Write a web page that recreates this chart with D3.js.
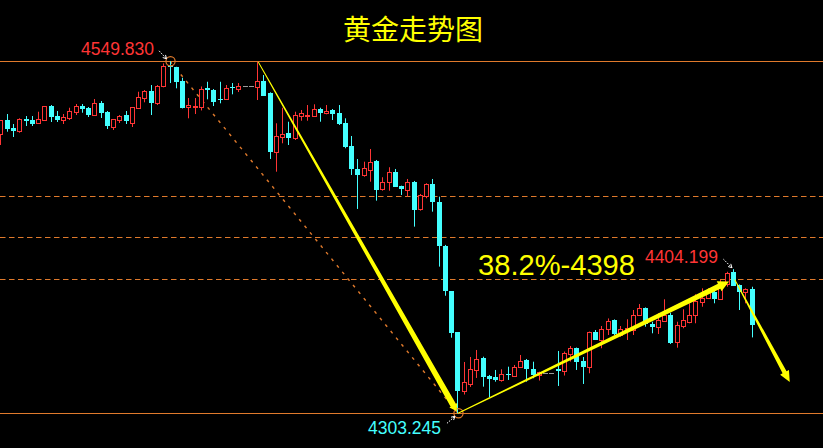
<!DOCTYPE html>
<html><head><meta charset="utf-8">
<script src="https://cdn.jsdelivr.net/npm/d3@7/dist/d3.min.js"></script>
<style>html,body{margin:0;padding:0;background:#000;overflow:hidden}</style>
</head><body>
<svg id="c" width="823" height="448"></svg>
<script>
// ---- data (XAUUSD candles) ----
const bars = d3.range(121);
const opens = [4498.9,4508.7,4503.1,4501.0,4509.4,4508.7,4506.6,4508.7,4518.5,4511.5,4508.9,4510.3,4514.3,4518.5,4516.9,4512.0,4520.6,4514.3,4503.8,4508.7,4512.2,4506.6,4517.3,4524.3,4529.0,4520.8,4532.7,4546.5,4545.8,4536.0,4517.6,4518.2,4517.8,4531.3,4529.7,4523.6,4523.2,4531.5,4530.4,4532.3,4532.3,4532.0,4536.0,4527.4,4486.5,4497.0,4499.8,4495.9,4511.7,4511.7,4511.7,4516.4,4513.8,4515.7,4513.8,4506.8,4490.5,4474.4,4470.2,4473.7,4480.2,4460.4,4465.1,4472.1,4462.7,4459.7,4465.1,4446.4,4455.7,4463.9,4451.5,4420.5,4388.9,4360.0,4319.1,4323.8,4333.6,4341.8,4329.4,4328.7,4326.6,4331.1,4329.6,4335.9,4340.6,4334.3,4330.1,4331.5,4331.5,4334.1,4333.1,4345.1,4348.8,4339.9,4335.9,4360.0,4354.9,4362.1,4368.6,4358.1,4362.1,4361.6,4372.1,4376.8,4365.8,4363.9,4367.9,4372.1,4353.0,4364.6,4367.4,4372.1,4381.4,4384.2,4388.0,4383.3,4393.6,4402.0,4393.1,4388.0,4390.3];
const highs = [4508.7,4512.9,4505.9,4509.9,4511.5,4511.5,4514.5,4518.5,4519.2,4515.0,4512.9,4517.3,4519.9,4519.9,4517.8,4523.4,4522.0,4515.0,4509.4,4512.2,4515.0,4517.8,4528.5,4529.7,4533.2,4533.2,4548.4,4549.83,4546.0,4538.3,4524.1,4524.1,4532.2,4535.5,4530.4,4535.5,4533.2,4534.6,4534.6,4532.3,4532.3,4549.3,4540.2,4528.1,4506.4,4517.3,4507.5,4514.5,4515.7,4519.2,4519.7,4517.3,4519.2,4516.4,4519.2,4509.9,4497.5,4481.4,4479.5,4488.4,4480.7,4468.6,4475.6,4474.4,4462.7,4467.4,4466.0,4456.9,4464.4,4467.4,4455.0,4421.2,4388.9,4360.0,4339.2,4342.7,4347.6,4342.9,4330.1,4333.6,4334.1,4335.9,4337.1,4344.1,4341.3,4339.4,4332.4,4331.5,4331.5,4346.9,4346.5,4350.4,4349.3,4342.7,4360.5,4361.6,4364.4,4369.7,4369.0,4364.4,4369.1,4375.6,4379.8,4377.4,4367.4,4373.3,4383.1,4373.7,4367.4,4376.1,4380.3,4386.6,4390.8,4390.8,4389.6,4396.6,4402.4,4404.199,4393.5,4390.8,4391.9];
const lows = [4491.2,4500.5,4496.8,4499.8,4504.5,4504.5,4506.6,4508.7,4507.3,4507.3,4505.9,4508.7,4512.2,4513.8,4510.8,4512.0,4510.1,4502.4,4501.7,4506.6,4505.9,4503.8,4517.3,4521.1,4512.2,4519.2,4531.6,4534.6,4530.9,4516.8,4509.9,4512.9,4515.4,4523.2,4518.5,4520.4,4522.7,4526.7,4528.3,4532.3,4532.3,4522.7,4525.7,4481.4,4472.5,4492.4,4491.2,4494.7,4508.2,4508.2,4511.7,4507.5,4512.7,4508.7,4505.2,4488.9,4470.2,4446.4,4469.0,4465.5,4452.2,4459.2,4459.2,4462.0,4456.2,4455.0,4434.0,4445.2,4453.9,4444.5,4406.0,4385.6,4356.2,4303.245,4316.4,4321.7,4328.0,4321.9,4314.5,4325.4,4325.4,4326.6,4329.6,4335.9,4325.4,4327.8,4326.2,4331.5,4331.5,4322.4,4329.7,4339.5,4333.6,4323.8,4331.3,4354.6,4348.8,4358.1,4358.1,4356.9,4354.6,4358.1,4371.4,4363.9,4359.3,4358.8,4367.4,4351.8,4349.2,4362.8,4366.3,4366.3,4377.9,4384.2,4380.3,4382.6,4391.9,4392.6,4375.6,4380.3,4356.4];
const closes = [4508.7,4502.4,4501.0,4509.2,4507.8,4505.9,4509.2,4518.5,4511.0,4508.7,4510.8,4515.0,4518.5,4516.4,4512.2,4520.6,4513.8,4504.5,4509.4,4511.5,4508.0,4517.8,4524.6,4529.0,4520.8,4532.5,4546.5,4545.5,4535.5,4517.3,4519.2,4518.7,4530.2,4529.4,4521.3,4523.1,4531.1,4531.1,4532.5,4532.3,4532.3,4536.0,4525.7,4486.5,4497.5,4498.9,4495.9,4512.2,4513.4,4512.4,4516.4,4513.8,4515.2,4512.9,4505.7,4490.0,4474.4,4470.2,4474.9,4479.1,4459.7,4465.1,4472.1,4462.0,4460.6,4465.1,4445.7,4456.2,4463.9,4451.3,4420.7,4389.1,4359.7,4319.1,4325.2,4334.3,4341.1,4328.5,4327.5,4326.6,4330.6,4330.1,4335.9,4339.9,4334.3,4330.1,4332.2,4331.5,4331.5,4333.2,4345.5,4348.8,4339.4,4335.9,4360.0,4354.6,4362.1,4367.6,4358.5,4362.1,4362.8,4372.1,4376.8,4365.8,4363.9,4368.6,4372.1,4352.3,4365.1,4368.6,4372.1,4381.9,4384.2,4388.0,4383.3,4393.1,4401.3,4392.6,4388.0,4390.3,4365.1];

const swingHigh = 4549.830, swingLow = 4303.245, recentHigh = 4404.199;
const fibRatios = [0, 0.382, 0.5, 0.618, 1];
const titleText = "黄金走势图";
const fibLabel = "38.2%-4398";
// arrows: [bar index, price] start -> end
const arrowPaths = [
  [[41.1, 4549.3], [72.8, 4304.6]],
  [[73.0, 4303.3], [116.3, 4395.6]],
  [[117.2, 4397.0], [126.0, 4325.2]]
];
const trendLine = [[27, swingHigh], [73, swingLow]];

// ---- scales ----
const W = 823, H = 448;
const x = d3.scaleBand().domain(bars).range([-2.13, 755.33]).paddingInner(0.2).paddingOuter(0.1);
const y = d3.scaleLinear().domain([swingLow, swingHigh]).range([413.3, 61.3]);
const xc = i => x(i) + x.bandwidth() / 2;
const xi = v => { const s = x.step(); return x(0) + x.bandwidth()/2 + v * s; };

const svg = d3.select("#c");
svg.append("rect").attr("width", W).attr("height", H).attr("fill", "#000");

const ORANGE = "#e07a2c", RED = "#ff3535", CYAN = "#44ffff", YEL = "#ffff00";

// fib lines
fibRatios.forEach(r => {
  const p = swingLow + r * (swingHigh - swingLow);
  const yy = Math.round(y(p)) + 0.5;
  svg.append("line").attr("x1", 0).attr("x2", W).attr("y1", yy).attr("y2", yy)
    .attr("stroke", ORANGE).attr("stroke-width", 1)
    .attr("stroke-dasharray", (r === 0 || r === 1) ? null : "5.5,3.5");
});

// dotted trend line
svg.append("line")
  .attr("x1", xc(trendLine[0][0])).attr("y1", y(trendLine[0][1]))
  .attr("x2", xc(trendLine[1][0])).attr("y2", y(trendLine[1][1]))
  .attr("stroke", ORANGE).attr("stroke-width", 1.4).attr("stroke-dasharray", "3,5.5");

// candles
const g = svg.append("g");
bars.forEach(i => {
  const o = opens[i], h = highs[i], l = lows[i], c = closes[i];
  const left = Math.round(xc(i) - 2.5);
  const cx = left + 2.5;
  if (h === l) {
    g.append("line").attr("x1", left).attr("x2", left + 5)
      .attr("y1", Math.round(y(c)) + 0.5).attr("y2", Math.round(y(c)) + 0.5)
      .attr("stroke", "#9a9a9a").attr("stroke-width", 1);
    return;
  }
  const up = c > o;
  const col = up ? RED : CYAN;
  g.append("line").attr("x1", cx).attr("x2", cx).attr("y1", y(h)).attr("y2", y(l))
    .attr("stroke", col).attr("stroke-width", 1);
  const top = Math.min(y(o), y(c)), bot = Math.max(y(o), y(c));
  if (up) {
    const t = Math.round(top) + 0.5, b = Math.max(Math.round(bot) + 0.5, t + 1);
    g.append("rect").attr("x", left + 0.5).attr("y", t).attr("width", 4).attr("height", b - t)
      .attr("fill", "#000").attr("stroke", col).attr("stroke-width", 1);
  } else {
    const t = Math.round(top), b = Math.max(Math.round(bot), t + 1);
    g.append("rect").attr("x", left).attr("y", t).attr("width", 5).attr("height", b - t)
      .attr("fill", col);
  }
});

// circles at swing points
[[27, swingHigh], [73, swingLow]].forEach(([i, p]) => {
  svg.append("circle").attr("cx", xc(i) + 0.5).attr("cy", y(p)).attr("r", 4.6)
    .attr("fill", "none").attr("stroke", ORANGE).attr("stroke-width", 1.2);
});

// tapered yellow arrows
function taper(a, b, w0, w1, hl, hw) {
  const x0 = xi(a[0]), y0 = y(a[1]), x1 = xi(b[0]), y1 = y(b[1]);
  const dx = x1 - x0, dy = y1 - y0, L = Math.hypot(dx, dy);
  const ux = dx / L, uy = dy / L, nx = -uy, ny = ux;
  const sx = x1 - ux * hl, sy = y1 - uy * hl;
  const pts = [
    [x0 + nx * w0 / 2, y0 + ny * w0 / 2],
    [sx + nx * w1 / 2, sy + ny * w1 / 2],
    [sx + nx * hw / 2, sy + ny * hw / 2],
    [x1, y1],
    [sx - nx * hw / 2, sy - ny * hw / 2],
    [sx - nx * w1 / 2, sy - ny * w1 / 2],
    [x0 - nx * w0 / 2, y0 - ny * w0 / 2]
  ];
  svg.append("path").attr("d", d3.line()(pts) + "Z").attr("fill", YEL);
}
taper(arrowPaths[0][0], arrowPaths[0][1], 0.9, 6.0, 7, 9);
taper(arrowPaths[1][0], arrowPaths[1][1], 0.9, 5.5, 11, 11);
taper(arrowPaths[2][0], arrowPaths[2][1], 0.9, 4.5, 11, 10);

// small white pointers
function pointer(x0, y0, x1, y1) {
  svg.append("line").attr("x1", x0).attr("y1", y0).attr("x2", x1).attr("y2", y1)
    .attr("stroke", "#fff").attr("stroke-width", 1).attr("stroke-dasharray", "1.5,1.2");
  const a = Math.atan2(y1 - y0, x1 - x0), s = 4;
  const p1 = [x1 - s * Math.cos(a - 0.5), y1 - s * Math.sin(a - 0.5)];
  const p2 = [x1 - s * Math.cos(a + 0.5), y1 - s * Math.sin(a + 0.5)];
  svg.append("path").attr("d", d3.line()([p1, [x1, y1], p2])).attr("fill", "none")
    .attr("stroke", "#fff").attr("stroke-width", 1);
}
pointer(xc(27) - 11, y(swingHigh) - 10.5, xc(27) - 3.5, y(swingHigh) - 2.5);
pointer(xc(73) - 11, y(swingLow) + 10, xc(73) - 3, y(swingLow) + 3);
pointer(xc(117) - 10, y(recentHigh) - 10, xc(117) - 1.5, y(recentHigh) - 1.5);

// labels
const NUMFONT = "'Liberation Sans', Arial, sans-serif";
svg.append("text").attr("x", xc(27) - 16).attr("y", y(swingHigh) - 6.3)
  .attr("text-anchor", "end").attr("font-family", NUMFONT).attr("font-size", 17.5)
  .attr("fill", RED).text(swingHigh.toFixed(3));
svg.append("text").attr("x", xc(73) - 17).attr("y", y(swingLow) + 21)
  .attr("text-anchor", "end").attr("font-family", NUMFONT).attr("font-size", 17.5)
  .attr("fill", CYAN).text(swingLow.toFixed(3));
svg.append("text").attr("x", xc(117) - 15.5).attr("y", y(recentHigh) - 6)
  .attr("text-anchor", "end").attr("font-family", NUMFONT).attr("font-size", 17.5)
  .attr("fill", RED).text(recentHigh.toFixed(3));
const fib382 = swingLow + 0.382 * (swingHigh - swingLow);
svg.append("text").attr("x", 478).attr("y", y(fib382) - 4)
  .attr("font-family", NUMFONT).attr("font-size", 30).attr("textLength", 157)
  .attr("lengthAdjust", "spacingAndGlyphs")
  .attr("fill", YEL).text(fibLabel);

svg.append("text").attr("x", W / 2 + 1.5).attr("y", 40)
  .attr("text-anchor", "middle").attr("font-family", "'Noto Sans CJK SC', sans-serif")
  .attr("font-size", 28).attr("fill", YEL).text(titleText);
</script>
</body></html>
